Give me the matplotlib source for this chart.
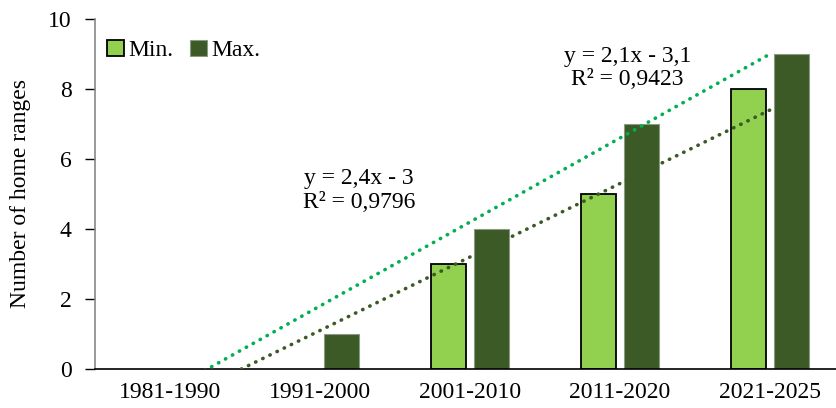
import matplotlib.pyplot as plt
import numpy as np
from matplotlib.patches import Patch

# Data
periods = ["1981-1990", "1991-2000", "2001-2010", "2011-2020", "2021-2025"]
min_vals = np.array([0, 0, 3, 5, 8])
max_vals = np.array([0, 1, 4, 7, 9])

light = "#92D050"
dark = "#3B5A25"
trend_light = "#00B050"

plt.rcParams['font.family'] = ['Liberation Serif', 'DejaVu Serif']
FS = 17

fig = plt.figure(figsize=(8.37, 4.08), dpi=100)
ax = fig.add_axes([95 / 837, 39 / 408, 750 / 837, 350 / 408])

x = np.arange(len(periods))
w = 0.23
off = 0.143
b1 = ax.bar(x - off, min_vals, w, color=light, edgecolor="black", linewidth=1.3, zorder=2)
b2 = ax.bar(x + off, max_vals, w, color=dark, edgecolor="#8c9a84", linewidth=0.8, zorder=2)
# empty bars draw nothing in the original
for p in list(b1) + list(b2):
    if p.get_height() == 0:
        p.set_visible(False)


def fit(vals):
    t = np.arange(1, len(vals) + 1)
    a, b = np.polyfit(t, vals, 1)
    pred = a * t + b
    r2 = 1 - np.sum((vals - pred) ** 2) / np.sum((vals - vals.mean()) ** 2)
    sign = "-" if b < 0 else "+"
    eq = f"y = {a:g}x {sign} {abs(b):g}".replace(".", ",")
    rs = f"R² = {r2:.4f}".replace(".", ",")
    return a, b, eq + "\n" + rs


# Trendlines (colours as in the original chart)
a_max, b_max, txt_max = fit(max_vals)
a_min, b_min, txt_min = fit(min_vals)
tt = np.linspace(1, 5, 200)
ax.plot(tt - 1, a_max * tt + b_max, color=trend_light, lw=2.6,
        linestyle=(0, (0.1, 2.1)), dash_capstyle="round", zorder=3)
ax.plot(tt - 1, a_min * tt + b_min, color=dark, lw=2.6,
        linestyle=(0, (0.1, 2.1)), dash_capstyle="round", zorder=3)

ax.text(1.26, 5.1, txt_max, ha="center", va="center", fontsize=FS, linespacing=1.15)
ax.text(3.05, 8.6, txt_min, ha="center", va="center", fontsize=FS, linespacing=1.15)

ax.set_xlim(-0.5, 4.5)
ax.set_ylim(0, 10)
ax.set_yticks(range(0, 11, 2))
ax.set_xticks(x)
ax.set_xticklabels(periods)
ax.tick_params(axis="x", length=0, labelsize=FS, pad=9)
ax.tick_params(axis="y", length=7, width=1, labelsize=FS, pad=10, color="black")
ax.set_ylabel("Number of home ranges", fontsize=FS, labelpad=12)

for s in ["top", "right"]:
    ax.spines[s].set_visible(False)
ax.spines["left"].set_color("#888888")
ax.spines["left"].set_linewidth(1.2)
ax.spines["bottom"].set_color("black")
ax.spines["bottom"].set_linewidth(1.2)

handles = [Patch(facecolor=light, edgecolor="black", linewidth=1.3, label="Min."),
           Patch(facecolor=dark, edgecolor="#8c9a84", linewidth=0.8, label="Max.")]
ax.legend(handles=handles, loc="upper left", bbox_to_anchor=(0.004, 0.968), ncol=2,
          frameon=False, fontsize=FS, handlelength=0.7, handleheight=0.7,
          handletextpad=0.2, columnspacing=0.7, borderaxespad=0)

fig.savefig("out.png", dpi=100)
